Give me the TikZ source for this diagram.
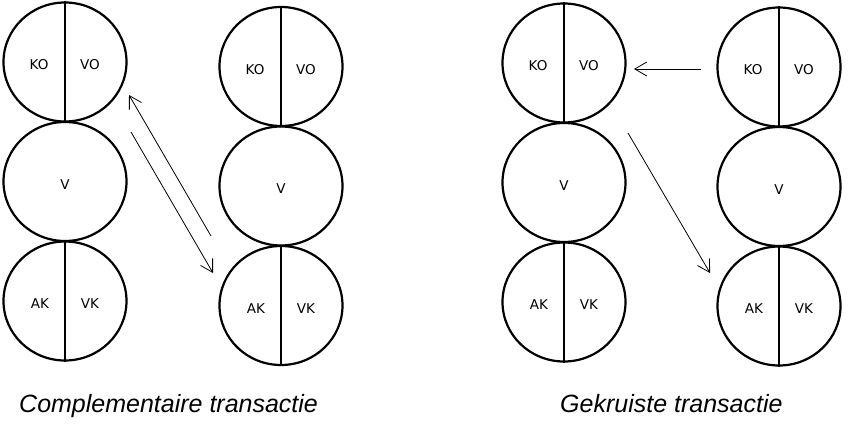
\documentclass[tikz,border=0pt]{standalone}
\usepackage{fontspec}
\setmainfont{Liberation Sans}
\newfontfamily\lblfont{DejaVu Sans}
\usetikzlibrary{shapes.geometric,arrows.meta}
\tikzset{
  ego/.style={ellipse, draw, line width=2.2pt, minimum width=123pt, minimum height=119pt, inner sep=0pt},
  lbl/.style={font=\lblfont\fontsize{13.5}{16}\selectfont, inner sep=0pt},
  captiontext/.style={font=\itshape\fontsize{25}{30}\selectfont, inner sep=0pt, anchor=base west},
  trans/.style={line width=0.8pt, -{Straight Barb[length=12pt,width=14pt,line width=0.8pt]}},
  divider/.style={line width=2.2pt}
}
\newcommand{\egocol}[3]{%
  \node[ego] (#1p) at (#2,#3) {};
  \node[ego] (#1a) at (#2,#3+119.5) {};
  \node[ego] (#1k) at (#2,#3+239) {};
  \draw[divider] (#1p.north) -- (#1p.south);
  \draw[divider] (#1k.north) -- (#1k.south);
  \node[lbl] (#1KO) at (#2-26,#3+3) {KO};
  \node[lbl] (#1VO) at (#2+25,#3+3) {VO};
  \node[lbl] (#1V) at (#2,#3+122.5) {V};
  \node[lbl] (#1AK) at (#2-25,#3+242) {AK};
  \node[lbl] (#1VK) at (#2+25,#3+242) {VK};
}
\begin{document}
\begin{tikzpicture}[x=1pt,y=-1pt]
\useasboundingbox (0,0) rectangle (853,430);
\egocol{A}{65}{62}
\egocol{B}{281}{66.5}
\egocol{C}{564}{63}
\egocol{D}{779}{67}
% complementary transaction
\coordinate (a1s) at (211,236);
\coordinate (a1e) at (129,95);
\coordinate (a2s) at (131,132);
\coordinate (a2e) at (213,273);
\draw[trans] (a1s) -- (a1e);
\draw[trans] (a2s) -- (a2e);
% crossed transaction
\coordinate (c1s) at (701,69);
\coordinate (c1e) at (634,69);
\coordinate (c2s) at (628,133);
\coordinate (c2e) at (710,273);
\draw[trans] (c1s) -- (c1e);
\draw[trans] (c2s) -- (c2e);
\node[captiontext] (capL) at (19,412) {Complementaire transactie};
\node[captiontext] (capR) at (560,412) {Gekruiste transactie};
\end{tikzpicture}
\end{document}
